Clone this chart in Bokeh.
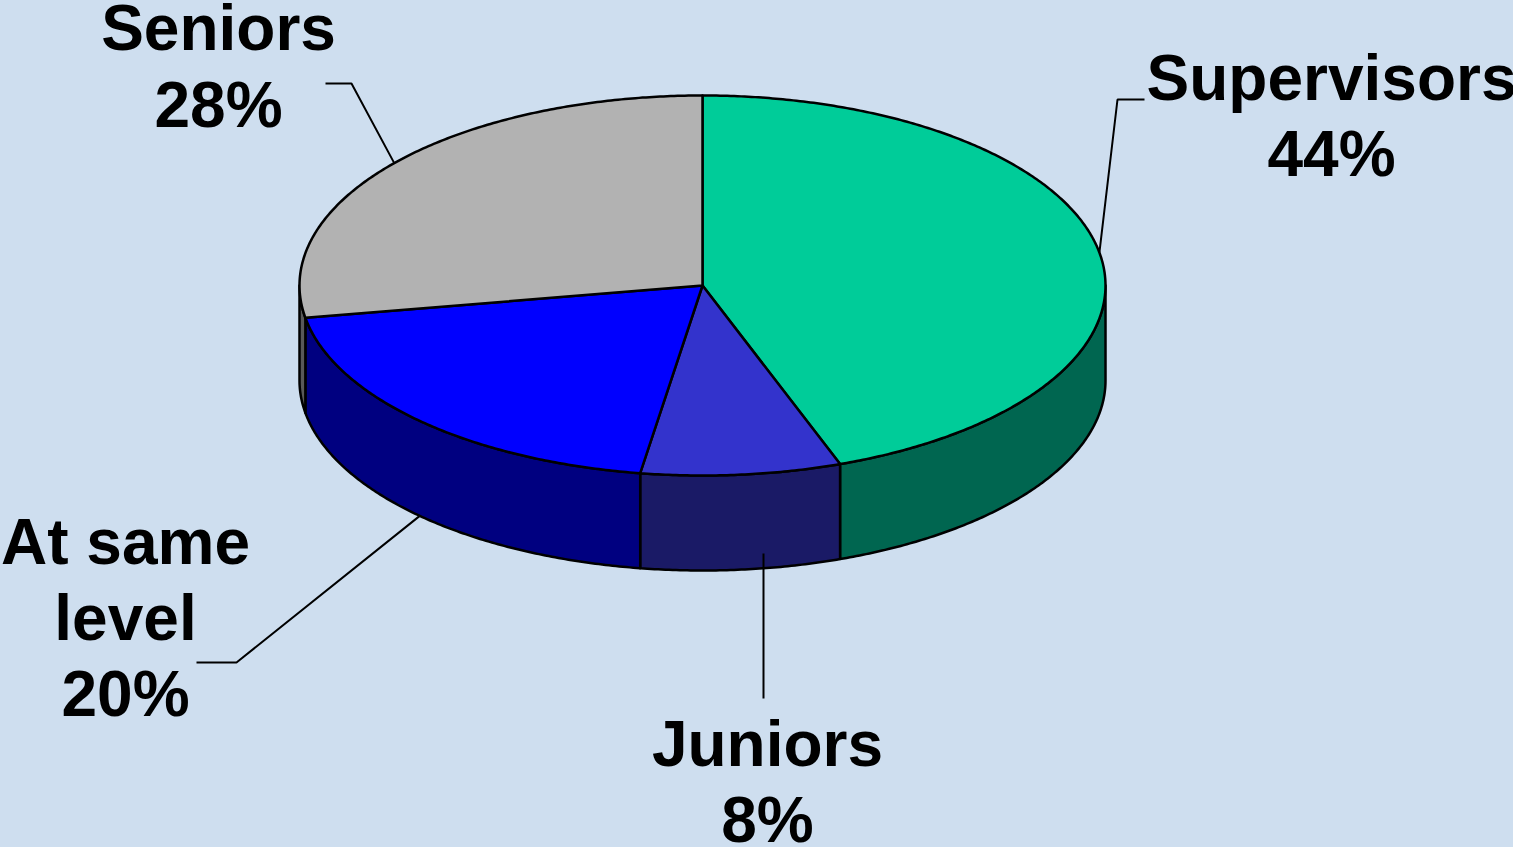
import numpy as np
from bokeh.core.properties import value
from bokeh.embed import file_html
from bokeh.models import Range1d
from bokeh.plotting import figure
from bokeh.resources import INLINE

# Slices run clockwise from twelve o'clock
categories = ["Supervisors", "Juniors", "At same level", "Seniors"]
shares = [44, 8, 20, 28]
top_colors = ["#00CC99", "#3333CC", "#0000FF", "#B2B2B2"]
side_colors = ["#006650", "#1A1A66", "#000080", "#595959"]

# Label lines: text, centre x, text-baseline y
label_lines = ["Seniors", "28%", "Supervisors", "44%", "At same", "level", "20%", "Juniors", "8%"]
label_x = [218, 218, 1331, 1331, 125, 125, 125, 767, 767]
label_y = [27, 104, 77, 153, 541, 617, 693, 743, 819]

# Pie geometry in page pixels
CX, CY, RX, RY, DEPTH = 702, 285, 403, 190, 95
WIDTH, HEIGHT = 1513, 847
BG = "#CEDEEF"
# Degrees by which the tilted projection pushes front-facing slice edges clockwise
FRONT_LEAN = 1.7


def projected(angle):
    """Angle on the drawn rim for a true clockwise pie angle in degrees."""
    return angle + FRONT_LEAN * (1 - np.cos(np.radians(angle))) / 2


def arc(start, end, drop=0.0):
    """Points along the rim between two clockwise rim angles in degrees."""
    steps = max(2, int(abs(end - start)) * 2 + 1)
    t = np.radians(np.linspace(start, end, steps))
    return CX + RX * np.sin(t), CY - RY * np.cos(t) + drop


p = figure(
    width=WIDTH, height=HEIGHT, output_backend="svg", toolbar_location=None,
    x_range=Range1d(0, WIDTH), y_range=Range1d(HEIGHT, 0),
    background_fill_color=BG, border_fill_color=BG,
    min_border=0, outline_line_color=None,
)
p.styles = {"background-color": BG}
p.axis.visible = False
p.grid.visible = False

edges = projected(np.concatenate([[0], np.cumsum(shares)]) * 3.6)
starts, ends = edges[:-1], edges[1:]

# Side walls: only the front half of the rim (90 to 270 degrees) shows
for a, b, color in zip(starts, ends, side_colors):
    lo, hi = max(a, 90), min(b, 270)
    if lo >= hi:
        continue
    tx, ty = arc(lo, hi)
    bx, by = arc(lo, hi, DEPTH)
    p.patch(np.concatenate([tx, bx[::-1]]), np.concatenate([ty, by[::-1]]),
            fill_color=color, line_color="black", line_width=2.5, line_join="round")

# Top faces
for a, b, color in zip(starts, ends, top_colors):
    ax, ay = arc(a, b)
    p.patch(np.concatenate([[CX], ax]), np.concatenate([[CY], ay]),
            fill_color=color, line_color="black", line_width=2.5, line_join="round")

# Leader lines start on the rim at each slice's middle angle
mid = (starts + ends) / 2
mx, my = arc(mid[0], mid[0])
sup_x, sup_y = mx[0], my[0]
mx, my = arc(mid[3], mid[3])
sen_x, sen_y = mx[0], my[0]
mx, my = arc(mid[2], mid[2], DEPTH)
lvl_x, lvl_y = mx[0], my[0]

p.line([1144, 1117, sup_x], [99, 99, sup_y], line_color="black", line_width=2)
p.line([325, 351, sen_x], [83, 83, sen_y], line_color="black", line_width=2)
p.line([196, 236, lvl_x], [662, 662, lvl_y], line_color="black", line_width=2)
p.line([763, 763], [553, 698], line_color="black", line_width=2)

p.text(label_x, label_y, text=label_lines, text_color="black",
       text_font=value("Liberation Sans"), text_font_style="bold",
       text_font_size="64px", text_align="center", text_baseline="alphabetic")

open("out.html", "w").write(file_html(p, INLINE))
